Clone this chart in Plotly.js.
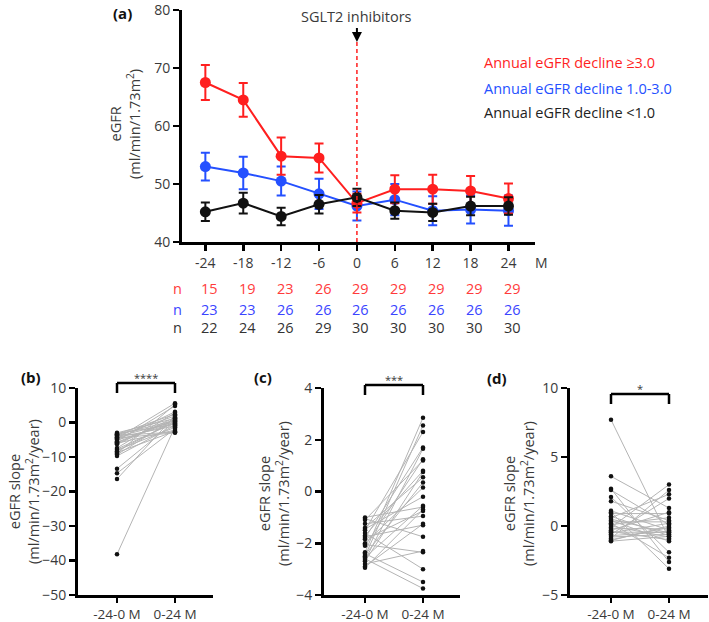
<!DOCTYPE html>
<html>
<head>
<meta charset="utf-8">
<script src="https://cdn.plot.ly/plotly-3.0.1.min.js"></script>
<style>html,body{margin:0;padding:0;background:#fff;}#chart{width:709px;height:622px;}</style>
</head>
<body>
<div id="chart"></div>
<script>
// ---------- Panel (a) data ----------
const months = [-24, -18, -12, -6, 0, 6, 12, 18, 24];
const monthLabels = ['-24', '-18', '-12', '-6', '0', '6', '12', '18', '24'];
const redMean = [67.5, 64.5, 54.8, 54.5, 46.7, 49.1, 49.1, 48.8, 47.5];
const redErr = [3.0, 2.9, 3.2, 2.5, 1.6, 2.4, 2.5, 2.6, 2.6];
const blueMean = [53.0, 51.9, 50.5, 48.3, 46.2, 47.3, 45.4, 45.6, 45.4];
const blueErr = [2.4, 2.8, 2.5, 2.6, 2.5, 2.7, 2.5, 2.4, 2.6];
const blackMean = [45.2, 46.7, 44.4, 46.5, 47.7, 45.4, 45.1, 46.2, 46.2];
const blackErr = [1.6, 1.8, 1.5, 1.6, 1.5, 1.4, 1.5, 1.6, 1.5];
const nRed = [15, 19, 23, 26, 29, 29, 29, 29, 29];
const nBlue = [23, 23, 26, 26, 26, 26, 26, 26, 26];
const nBlack = [22, 24, 26, 29, 30, 30, 30, 30, 30];
const seriesNames = ['Annual eGFR decline ≥3.0', 'Annual eGFR decline 1.0-3.0', 'Annual eGFR decline <1.0'];

// ---------- Panels (b)-(d) data ----------
const periods = ['-24-0 M', '0-24 M'];
const bPre = [-3.0, -3.2, -3.4, -3.5, -3.7, -3.9, -4.1, -4.3, -4.6, -4.9, -5.1, -5.4, -5.7, -6.0, -6.3, -7.4, -7.7, -8.0, -8.3, -8.7, -9.0, -9.3, -9.7, -13.4, -14.7, -16.4, -38.2, -4.5, -5.9];
const bPost = [1.2, -0.5, 2.4, 0.6, -2.8, 1.9, 0.2, -1.0, 5.6, 3.1, -0.2, 4.8, 0.9, -2.2, 1.5, 2.8, 0.0, -1.4, 0.4, -2.5, 5.2, 1.1, -0.8, 0.3, -1.8, 2.0, -1.2, -3.0, 0.7];
const cPre = [-1.0, -1.05, -1.1, -1.25, -1.4, -1.45, -1.5, -1.6, -1.7, -1.75, -1.8, -1.85, -2.0, -2.05, -2.1, -2.35, -2.4, -2.45, -2.5, -2.55, -2.6, -2.65, -2.7, -2.8, -2.9, -2.95];
const cPost = [-0.6, -1.75, 1.2, -0.95, 0.55, -0.2, 2.3, -3.0, 0.8, -1.3, 1.7, -0.75, 0.15, -2.35, 1.25, 2.85, -3.5, 0.35, 2.55, -0.55, -3.75, 1.65, 0.75, -2.3, -1.25, -0.7];
const dPre = [7.7, 3.6, 2.7, 2.6, 2.1, 1.8, 1.1, 1.0, 0.9, 0.7, 0.6, 0.5, 0.4, 0.3, 0.2, 0.1, 0.0, -0.1, -0.2, -0.3, -0.4, -0.5, -0.6, -0.7, -0.8, -0.9, -1.0, -1.05, -1.1, -0.45];
const dPost = [-0.9, 1.3, -2.6, 0.1, -1.9, 0.4, -0.3, -3.1, 0.9, -0.7, 2.3, -0.5, -1.1, 0.3, -2.3, 0.6, -0.8, 3.0, -0.2, 1.0, -1.0, 0.2, 2.0, -0.4, -0.6, 2.6, -0.1, 0.0, -0.75, -0.45];
const sigB = '****', sigC = '***', sigD = '*';

// ---------- styling ----------
const W = 709, H = 622;
const px = v => v / W;
const py = v => 1 - v / H;
const FONT = '"Open Sans", "Noto Sans", sans-serif';
const RED = '#ff1f1f', BLUE = '#2450ff', BLACK = '#111111';
const TXT = '#3a3a3a';

const traces = [];
function meanTrace(y, err, color, name) {
  return {
    type: 'scatter', mode: 'lines+markers', x: months, y: y, name: name,
    xaxis: 'x', yaxis: 'y',
    line: {color: color, width: 2},
    marker: {color: color, size: 11},
    error_y: {type: 'data', array: err, visible: true, color: color, thickness: 2, width: 4.5},
    showlegend: false, cliponaxis: false
  };
}
traces.push(meanTrace(blueMean, blueErr, BLUE, seriesNames[1]));
traces.push(meanTrace(redMean, redErr, RED, seriesNames[0]));
traces.push(meanTrace(blackMean, blackErr, BLACK, seriesNames[2]));

function pairedTraces(pre, post, xa, ya) {
  const lx = [], ly = [];
  for (let i = 0; i < pre.length; i++) {
    lx.push(periods[0], periods[1], null);
    ly.push(pre[i], post[i], null);
  }
  traces.push({type: 'scatter', mode: 'lines', x: lx, y: ly, xaxis: xa, yaxis: ya,
    line: {color: '#b4b4b4', width: 1}, connectgaps: false, showlegend: false, hoverinfo: 'skip'});
  traces.push({type: 'scatter', mode: 'markers', x: pre.map(() => periods[0]), y: pre, xaxis: xa, yaxis: ya,
    marker: {color: BLACK, size: 4.5}, showlegend: false, cliponaxis: false});
  traces.push({type: 'scatter', mode: 'markers', x: post.map(() => periods[1]), y: post, xaxis: xa, yaxis: ya,
    marker: {color: BLACK, size: 4.5}, showlegend: false, cliponaxis: false});
}
pairedTraces(bPre, bPost, 'x2', 'y2');
pairedTraces(cPre, cPost, 'x3', 'y3');
pairedTraces(dPre, dPost, 'x4', 'y4');

const axisCommon = {
  showline: true, linecolor: '#000', linewidth: 3, ticks: 'outside', ticklen: 6, tickwidth: 2.5,
  tickcolor: '#000', showgrid: false, zeroline: false, fixedrange: true,
  ticklabeloverflow: 'allow',
  tickfont: {family: FONT, size: 14, color: TXT}
};
const botXCommon = Object.assign({}, axisCommon, {ticklen: 5, tickfont: {family: FONT, size: 13.5, color: TXT}});

const botY = [py(595), py(388)];
function catRange(axisX, cat0X, cat1X, endX) {
  const u = cat1X - cat0X;
  return [-(cat0X - axisX) / u, 1 + (endX - cat1X) / u];
}

const layout = {
  width: W, height: H,
  margin: {l: 0, r: 0, t: 0, b: 0},
  paper_bgcolor: '#fff', plot_bgcolor: 'rgba(0,0,0,0)',
  font: {family: FONT, color: TXT},
  xaxis: Object.assign({}, axisCommon, {
    domain: [px(182), px(535)], range: [-27.7, 28.2], anchor: 'y',
    tickvals: months, ticktext: monthLabels
  }),
  yaxis: Object.assign({}, axisCommon, {
    domain: [py(242), py(10)], range: [40, 80], dtick: 10, anchor: 'x'
  }),
  xaxis2: Object.assign({}, botXCommon, {
    domain: [px(78), px(213)], type: 'category', categoryorder: 'array', categoryarray: periods,
    range: catRange(78, 117, 175, 213), anchor: 'y2'
  }),
  yaxis2: Object.assign({}, axisCommon, {domain: botY, range: [-50, 10], dtick: 10, anchor: 'x2'}),
  xaxis3: Object.assign({}, botXCommon, {
    domain: [px(324), px(460)], type: 'category', categoryorder: 'array', categoryarray: periods,
    range: catRange(324, 365, 423, 460), anchor: 'y3'
  }),
  yaxis3: Object.assign({}, axisCommon, {domain: botY, range: [-4, 4], dtick: 2, anchor: 'x3'}),
  xaxis4: Object.assign({}, botXCommon, {
    domain: [px(570), px(708)], type: 'category', categoryorder: 'array', categoryarray: periods,
    range: catRange(570, 611, 669, 708), anchor: 'y4'
  }),
  yaxis4: Object.assign({}, axisCommon, {domain: botY, range: [-5, 10], dtick: 5, anchor: 'x4'}),
  shapes: [], annotations: []
};

// vertical dashed line at treatment start
layout.shapes.push({type: 'line', xref: 'x', yref: 'paper', x0: 0, x1: 0, y0: py(242), y1: py(42),
  line: {color: RED, width: 1.5, dash: '4px,3px'}});

// significance brackets
function bracket(xa, topY, endY, starY, label) {
  const ln = {color: '#000', width: 2.5};
  layout.shapes.push({type: 'line', xref: xa, yref: 'paper', x0: 0, x1: 1, y0: py(topY), y1: py(topY), line: ln});
  layout.shapes.push({type: 'line', xref: xa, yref: 'paper', x0: 0, x1: 0, y0: py(topY), y1: py(endY), line: ln});
  layout.shapes.push({type: 'line', xref: xa, yref: 'paper', x0: 1, x1: 1, y0: py(topY), y1: py(endY), line: ln});
  layout.annotations.push({xref: xa, yref: 'paper', x: 0.5, y: py(starY), text: label, showarrow: false,
    font: {size: 11, color: TXT}, yanchor: 'middle'});
}
bracket('x2', 383, 393, 377, sigB);
bracket('x3', 385, 395, 379, sigC);
bracket('x4', 394, 404, 388, sigD);

function ann(x, y, text, opts) {
  layout.annotations.push(Object.assign({xref: 'paper', yref: 'paper', x: px(x), y: py(y), text: text,
    showarrow: false, xanchor: 'center', yanchor: 'middle', font: {size: 14, color: TXT}}, opts || {}));
}

// arrow + label
layout.annotations.push({xref: 'x', yref: 'paper', x: 0, y: py(42), text: 'SGLT2 inhibitors',
  showarrow: true, arrowhead: 2, arrowsize: 1, arrowwidth: 2, arrowcolor: '#000', ax: 0, ay: -25,
  font: {size: 14.5, color: TXT}});

// legend text
const legendColors = [RED, BLUE, '#222'];
const legendY = [63, 88, 113];
seriesNames.forEach((t, i) => ann(482, legendY[i], t, {xanchor: 'left', font: {size: 14.5, color: legendColors[i]}}));

// M unit
ann(541, 262, 'M', {font: {size: 14, color: TXT}});

// n table
const nRows = [[nRed, '#ff3b3b', 288], [nBlue, '#3a45ff', 309], [nBlack, '#333', 328]];
nRows.forEach(([vals, col, y]) => {
  ann(177, y, 'n', {font: {size: 14.5, color: col}});
  vals.forEach((v, i) => {
    layout.annotations.push({xref: 'x', yref: 'paper', x: months[i], y: py(y), xshift: 4, text: String(v),
      showarrow: false, xanchor: 'center', yanchor: 'middle', font: {size: 14.5, color: col}});
  });
});

// axis titles
ann(125, 124, 'eGFR<br>(ml/min/1.73m<sup>2</sup>)', {textangle: -90, font: {size: 14.5, color: TXT}});
ann(24, 492, 'eGFR slope<br>(ml/min/1.73m<sup>2</sup>/year)', {textangle: -90, font: {size: 14.5, color: TXT}});
ann(274, 494, 'eGFR slope<br>(ml/min/1.73m<sup>2</sup>/year)', {textangle: -90, font: {size: 14.5, color: TXT}});
ann(519, 494, 'eGFR slope<br>(ml/min/1.73m<sup>2</sup>/year)', {textangle: -90, font: {size: 14.5, color: TXT}});

// panel labels
ann(122, 13, '<b>(a)</b>', {font: {size: 15, color: '#111'}});
ann(31, 377, '<b>(b)</b>', {font: {size: 15, color: '#111'}});
ann(263, 377, '<b>(c)</b>', {font: {size: 15, color: '#111'}});
ann(497, 378, '<b>(d)</b>', {font: {size: 15, color: '#111'}});

Plotly.newPlot('chart', traces, layout, {displayModeBar: false, staticPlot: true});
</script>
</body>
</html>
